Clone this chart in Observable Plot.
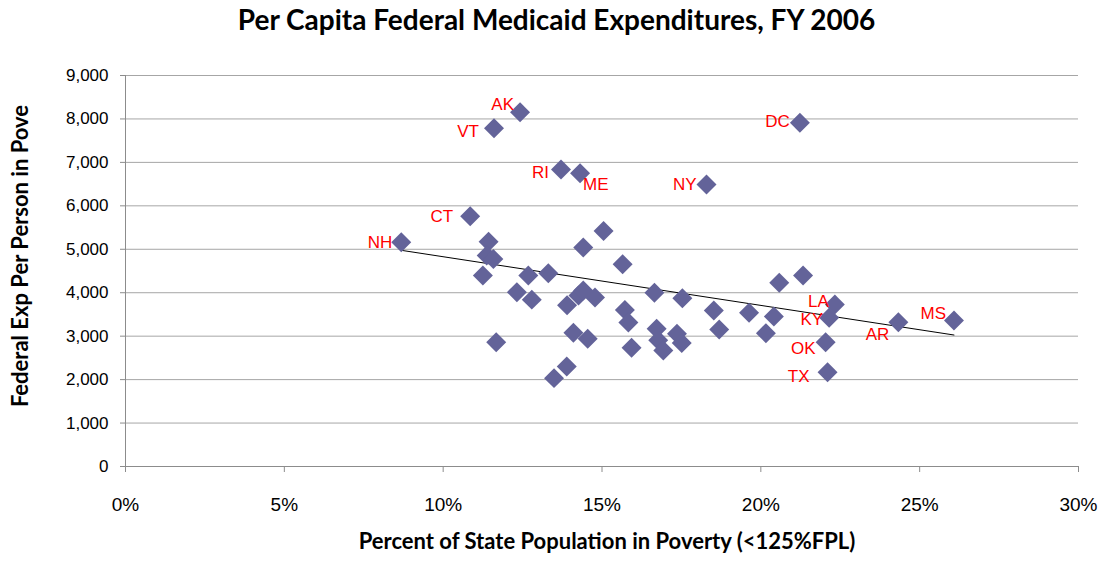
<!DOCTYPE html>
<html><head><meta charset="utf-8">
<script src="https://cdn.jsdelivr.net/npm/d3@7"></script>
<script src="https://cdn.jsdelivr.net/npm/@observablehq/plot@0.6"></script>
<style>
body{margin:0;background:#fff;}
#title{font-family:Lato,"Open Sans",sans-serif;font-weight:bold;font-size:28px;text-align:center;height:40px;line-height:38px;color:#000;}
#chart svg{display:block;}
</style></head><body>
<div id="title">Per Capita Federal Medicaid Expenditures, FY 2006</div>
<div id="chart"></div>
<script>
// State labels ("" = unlabeled state)
const states = ["AK","VT","RI","ME","CT","NH","","","","","","","","","","","","","","","","","","","","","","","","","","","","","","","","","","","","","","LA","KY","OK","TX","AR","MS","DC","NY"];
// Percent of state population in poverty (<125% FPL)
const poverty = [12.42,11.60,13.71,14.31,10.85,8.68,11.43,14.41,15.05,15.65,11.37,11.58,11.25,12.68,13.31,12.32,12.79,13.90,14.26,14.41,14.78,15.72,15.83,14.10,14.55,15.93,11.67,13.89,13.49,16.65,17.53,16.72,16.77,16.93,17.36,17.51,18.52,18.69,19.63,20.58,21.33,20.41,20.16,22.33,22.15,22.04,22.10,24.33,26.08,21.23,18.29];
// Federal Medicaid expenditure per person in poverty
const spending = [8156,7788,6837,6752,5762,5164,5172,5041,5420,4657,4857,4775,4397,4397,4450,4012,3841,3710,3937,4052,3890,3600,3315,3080,2940,2735,2862,2302,2034,3999,3875,3170,2905,2670,3055,2843,3591,3155,3538,4229,4397,3453,3069,3730,3423,2862,2171,3322,3361,7912,6492];
const xTicks = [0,5,10,15,20,25,30];
const yTicks = [0,1000,2000,3000,4000,5000,6000,7000,8000,9000];

// label placement (style, not data)
const labelPlacement = {
  NH:{anchor:"end",dx:-9,dy:0}, CT:{anchor:"end",dx:-17,dy:0}, VT:{anchor:"end",dx:-15,dy:3},
  AK:{anchor:"end",dx:-6,dy:-8}, RI:{anchor:"end",dx:-12,dy:3}, ME:{anchor:"start",dx:3,dy:11},
  DC:{anchor:"end",dx:-10,dy:-1}, NY:{anchor:"end",dx:-10,dy:0}, LA:{anchor:"end",dx:-6,dy:-3},
  KY:{anchor:"end",dx:-6,dy:2}, OK:{anchor:"end",dx:-10,dy:6}, TX:{anchor:"end",dx:-18,dy:4},
  AR:{anchor:"end",dx:-9,dy:12}, MS:{anchor:"end",dx:-8,dy:-7}
};

const data = states.map((s,i)=>({state:s, x:poverty[i], y:spending[i]}));
const labeled = data.filter(d=>d.state);

const gray = "#8c8c8c";
const chart = Plot.plot({
  width:1113, height:521,
  marginTop:35, marginBottom:95, marginLeft:125, marginRight:35,
  style:{fontFamily:"'Liberation Sans',Arial,sans-serif", fontSize:"17px", background:"#fff", color:"#000"},
  x:{domain:[0,30]},
  y:{domain:[0,9000]},
  marks:[
    Plot.gridY(yTicks.filter(d=>d>0), {stroke:"#a6a6a6", strokeOpacity:1, strokeWidth:1}),
    Plot.ruleX([0], {stroke:gray}),
    Plot.ruleY([0], {stroke:gray}),
    Plot.axisY({ticks:yTicks, tickFormat:d3.format(","), tickSize:5, tickPadding:12, stroke:gray, fill:"#000", label:null, fontSize:17}),
    Plot.axisX({ticks:xTicks, tickFormat:d=>d+"%", tickSize:6, tickPadding:25, stroke:gray, fill:"#000", label:null, fontSize:19}),
    Plot.linearRegressionY(data, {x:"x", y:"y", stroke:"#000", strokeWidth:1, ci:0}),
    Plot.dot(data, {x:"x", y:"y", symbol:"diamond2", r:9, fill:"#636399", stroke:"none"}),
    ...labeled.map(d=>{
      const p = labelPlacement[d.state];
      return Plot.text([d], {x:"x", y:"y", text:"state", textAnchor:p.anchor, dx:p.dx, dy:p.dy, fill:"#ff0000", fontSize:17});
    }),
    Plot.text(["Percent of State Population in Poverty (<125%FPL)"], {frameAnchor:"bottom", dy:82, dx:5, fontWeight:"bold", fontSize:22, fontFamily:"Lato,sans-serif"}),
    Plot.text(["Federal Exp Per Person in Pove"], {frameAnchor:"left", textAnchor:"middle", rotate:-90, dx:-105, dy:-15, fontWeight:"bold", fontSize:22, fontFamily:"Lato,sans-serif"})
  ]
});
document.getElementById("chart").appendChild(chart);
</script>
</body></html>
